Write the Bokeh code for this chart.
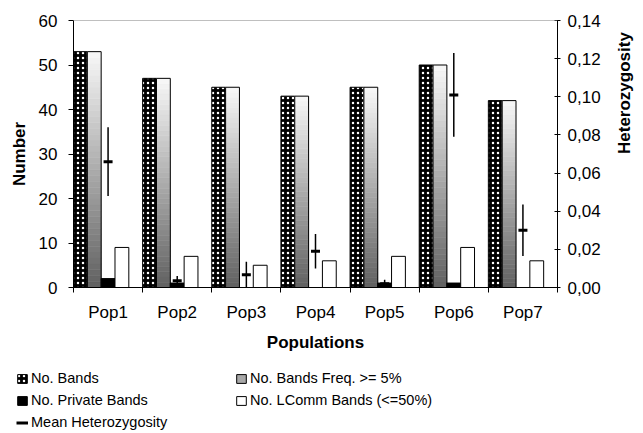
import math
from bokeh.plotting import figure
from bokeh.layouts import column
from bokeh.models import (ColumnDataSource, Range1d, LinearAxis, FixedTicker,
                          CustomJSTickFormatter, Legend, LegendItem, Span)
from bokeh.embed import file_html
from bokeh.resources import INLINE

# ---------------- data ----------------
categories = ["Pop1", "Pop2", "Pop3", "Pop4", "Pop5", "Pop6", "Pop7"]
no_bands = [53, 47, 45, 43, 45, 50, 42]
bands_freq5 = [53, 47, 45, 43, 45, 50, 42]
private_bands = [2, 1, 0, 0, 1, 1, 0]
lcomm_bands = [9, 7, 5, 6, 7, 9, 6]
mean_het = [0.066, 0.0035, 0.0067, 0.019, 0.002, 0.101, 0.030]
het_err = [0.018, 0.0025, 0.0068, 0.009, 0.002, 0.022, 0.0135]
number_ticks = [0, 10, 20, 30, 40, 50, 60]
het_ticks = [0.0, 0.02, 0.04, 0.06, 0.08, 0.10, 0.12, 0.14]
legend_labels = ["No. Bands", "No. Bands Freq. >= 5%", "No. Private Bands",
                 "No. LComm Bands (<=50%)", "Mean Heterozygosity"]

FONT = "Liberation Sans"
TICK_FS = "17px"
TITLE_FS = "17px"
LEG_FS = "14.5px"

xc = [i + 1 for i in range(len(categories))]
BW = 0.2

MAIN_H = 365
p = figure(width=643, height=MAIN_H, frame_width=484, frame_height=267,
           min_border_left=73, min_border_right=86,
           min_border_top=20, min_border_bottom=MAIN_H - 20 - 267,
           x_range=Range1d(0.5, len(categories) + 0.5),
           y_range=Range1d(number_ticks[0], number_ticks[-1]),
           output_backend="svg", toolbar_location=None,
           background_fill_color="white", border_fill_color="white",
           outline_line_color=None, frame_align=False)
p.extra_y_ranges = {"het": Range1d(het_ticks[0], het_ticks[-1])}
p.xgrid.visible = False
p.ygrid.visible = False

# top frame line
p.add_layout(Span(location=number_ticks[-1], dimension="width",
                  line_color="#808080", line_width=1))

HATCH = dict(fill_color="black", hatch_pattern="dot", hatch_color="white",
             hatch_scale=5, hatch_weight=2.5, line_color="black", line_width=1)
GRAD_ICON = dict(fill_color="#a8a8a8", line_color="black", line_width=1)
PRIV = dict(fill_color="black", line_color="black", line_width=1)
LCOMM = dict(fill_color="white", line_color="black", line_width=1)

# No. Bands (hatched)
src_b = ColumnDataSource(dict(x=[c - 0.4 for c in xc], top=no_bands))
p.vbar(x="x", top="top", bottom=0, width=BW, source=src_b, **HATCH)

# No. Bands Freq >= 5% (vertical gradient drawn as slices)
N = 40
dark, light = 96, 248
gl, gr, gb, gt, gc = [], [], [], [], []
for c, v in zip(xc, bands_freq5):
    for k in range(N):
        t = (k + 0.5) / N
        g = int(round(dark + (light - dark) * t))
        gl.append(c - 0.3)
        gr.append(c - 0.1)
        gb.append(v * k / N)
        gt.append(v * (k + 1) / N)
        gc.append("#%02x%02x%02x" % (g, g, g))
src_g = ColumnDataSource(dict(left=gl, right=gr, bottom=gb, top=gt, color=gc))
p.quad(left="left", right="right", bottom="bottom", top="top", source=src_g,
       fill_color="color", line_color="color", line_width=0.6)
src_go = ColumnDataSource(dict(x=[c - 0.2 for c in xc], top=bands_freq5))
p.vbar(x="x", top="top", bottom=0, width=BW, source=src_go,
       fill_color=None, line_color="black", line_width=1)

# No. Private Bands
src_p = ColumnDataSource(dict(x=list(xc), top=private_bands))
p.vbar(x="x", top="top", bottom=0, width=BW, source=src_p, **PRIV)

# No. LComm Bands
src_l = ColumnDataSource(dict(x=[c + 0.2 for c in xc], top=lcomm_bands))
p.vbar(x="x", top="top", bottom=0, width=BW, source=src_l, **LCOMM)

# Mean heterozygosity with error bars (secondary axis)
src_h = ColumnDataSource(dict(
    x=list(xc), y=mean_het,
    lo=[max(0.0, m - e) for m, e in zip(mean_het, het_err)],
    hi=[m + e for m, e in zip(mean_het, het_err)]))
p.segment(x0="x", x1="x", y0="lo", y1="hi", source=src_h, y_range_name="het",
          line_color="black", line_width=1.5)
p.scatter(x="x", y="y", source=src_h, y_range_name="het", marker="dash",
          size=9, line_color="black", line_width=3)

# ---------------- axes ----------------
xa = p.xaxis[0]
xa.ticker = FixedTicker(ticks=xc, minor_ticks=[c - 0.5 for c in xc] + [xc[-1] + 0.5])
xa.major_label_overrides = {c: name for c, name in zip(xc, categories)}
xa.major_tick_out = 5
xa.major_tick_in = 0
xa.minor_tick_line_color = "black"
xa.minor_tick_out = 5
xa.minor_tick_in = 0
xa.major_label_standoff = 10
xa.axis_label = "Populations"
xa.axis_label_standoff = 8

ya = p.yaxis[0]
ya.ticker = FixedTicker(ticks=number_ticks)
ya.major_tick_out = 5
ya.major_tick_in = 0
ya.minor_tick_line_color = None
ya.major_label_standoff = 11
ya.axis_label = "Number"
ya.axis_label_standoff = 7

ra = LinearAxis(y_range_name="het", ticker=FixedTicker(ticks=het_ticks),
                formatter=CustomJSTickFormatter(code="return tick.toFixed(2).replace('.', ',');"),
                axis_label="Heterozygosity")
ra.major_tick_out = 3
ra.major_tick_in = 3
ra.minor_tick_line_color = None
ra.major_label_standoff = 7
ra.axis_label_standoff = 21
ra.axis_label_orientation = math.pi / 2
p.add_layout(ra, "right")

for ax in (xa, ya, ra):
    ax.axis_line_color = "black"
    ax.axis_line_width = 1
    ax.major_tick_line_color = "black" if ax is not xa else None
    ax.major_label_text_font = FONT
    ax.major_label_text_font_size = TICK_FS
    ax.major_label_text_color = "black"
    ax.axis_label_text_font = FONT
    ax.axis_label_text_font_size = TITLE_FS
    ax.axis_label_text_font_style = "bold"
    ax.axis_label_text_color = "black"

# ---------------- legend (separate strip below the chart) ----------------
# The legend strip re-uses the chart's sources; its ranges keep those glyphs
# out of view so only the legend icons are visible.
LEG_H = 433 - MAIN_H
lg = figure(width=643, height=LEG_H, min_border_left=16, min_border_top=4,
            min_border_right=0, min_border_bottom=0,
            x_range=Range1d(100, 101), y_range=Range1d(100, 101),
            x_axis_location=None, y_axis_location=None,
            output_backend="svg", toolbar_location=None,
            background_fill_color="white", border_fill_color="white",
            outline_line_color=None, frame_align=False)
lg.xgrid.visible = False
lg.ygrid.visible = False
g1 = lg.vbar(x="x", top="top", bottom=0, width=BW, source=src_b, **HATCH)
g2 = lg.vbar(x="x", top="top", bottom=0, width=BW, source=src_go, **GRAD_ICON)
g3 = lg.vbar(x="x", top="top", bottom=0, width=BW, source=src_p, **PRIV)
g4 = lg.vbar(x="x", top="top", bottom=0, width=BW, source=src_l, **LCOMM)
g5 = lg.line(x="x", y="y", source=src_h, line_color="black", line_width=3)

legend = Legend(items=[LegendItem(label=lab, renderers=[r])
                       for lab, r in zip(legend_labels, [g1, g2, g3, g4, g5])],
                location="top_left", orientation="horizontal", ncols=2,
                glyph_width=12, glyph_height=11, label_standoff=3, label_width=200,
                label_height=18, spacing=4, padding=0, margin=0,
                border_line_color=None, background_fill_alpha=0,
                label_text_font=FONT, label_text_font_size=LEG_FS,
                label_text_color="black")
lg.add_layout(legend, "center")

layout = column(p, lg, spacing=0)
open("out.html", "w").write(file_html(layout, INLINE))
